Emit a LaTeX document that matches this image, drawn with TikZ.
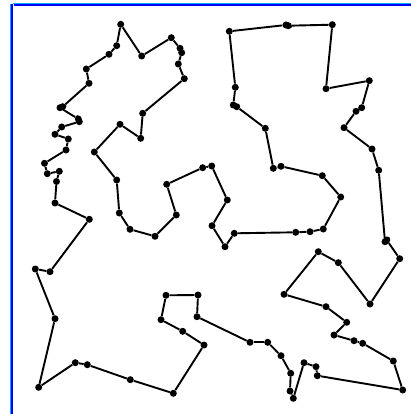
\documentclass[tikz,border=0pt]{standalone}
\usepackage{tikz}

\begin{document}
\begin{tikzpicture}[
    x=1pt, y=-1pt,
    city/.style={circle, fill=black, inner sep=0pt, minimum size=7pt},
    road/.style={line width=1.9pt},
    rim/.style={blue, line width=2pt}
  ]
    \useasboundingbox (0,0) rectangle (411,414);
    % window frame
    \draw[cyan, line width=0.8pt] (10.4,3.6) -- (10.4,414);
    \draw[cyan, line width=0.8pt] (13,3.2) -- (411,3.2);
    \draw[rim] (12,4) -- (12,414);
    \draw[rim] (14,5) -- (411,5);
    % cities, in tour order
    \foreach \x/\y [count=\i] in {
      120.7/24.3, 116.7/45.7, 109/54.3, 86.3/69, 89/83.3,
      62.7/106.7, 60/107.7, 78.3/119, 79.3/121.7, 61.7/127,
      55/134.3, 68.3/139, 66/150, 44.5/163.3, 47.3/173.7,
      59.3/171.3, 56.5/181.5, 55/203, 89.3/219.3, 50/271.7,
      35.3/269, 55/318.7, 38.7/387.3, 75.3/362.7, 87.3/364.7,
      130.3/379.7, 173.3/393.3, 204/345, 182.7/331.3, 161/319.7,
      166/295.3, 198/295, 197/316.7, 250/342.3, 267.7/342.3,
      281/355.7, 290.7/373.3, 290/391, 293.3/398.3, 304/362.7,
      316/366.7, 317.3/375.7, 402.7/390, 393.3/361, 362.7/343.3,
      354/340.7, 334/335, 346.7/322.3, 326/306.7, 284/294.3,
      318.3/251.7, 338.3/262.7, 370/304, 399.7/258.7, 386.7/240,
      385/241.7, 378.7/170.3, 372/149, 344/127.7, 356/111.3,
      361.7/107.7, 369.3/80.7, 326/88.7, 332.3/24.7, 288.3/25.7,
      286/25, 229.3/31.3, 235.3/87.3, 233.3/105, 236.7/106.7,
      265.3/128.3, 273.3/168.3, 281/166.3, 322.3/175.7, 340.7/197,
      323.3/229, 310/231.7, 295.7/232.3, 234.3/233.3, 225/246.7,
      212/225.7, 227.3/200, 211.7/166, 202.7/167.7, 166.7/184.3,
      176.3/215, 155/236.3, 130/229.3, 119.3/213, 116.7/180,
      94.3/152, 120/124.3, 140.7/138.3, 142.7/113.3, 184.3/78.7,
      178.3/64, 181.7/52.7, 180/48.3, 171.3/37.7, 141.7/56}
      \node[city] (c\i) at (\x,\y) {};
    % closed tour
    \foreach \i [remember=\i as \j (initially 100)] in {1,...,100}
      \draw[road] (c\j) -- (c\i);
  \end{tikzpicture}
\end{document}
